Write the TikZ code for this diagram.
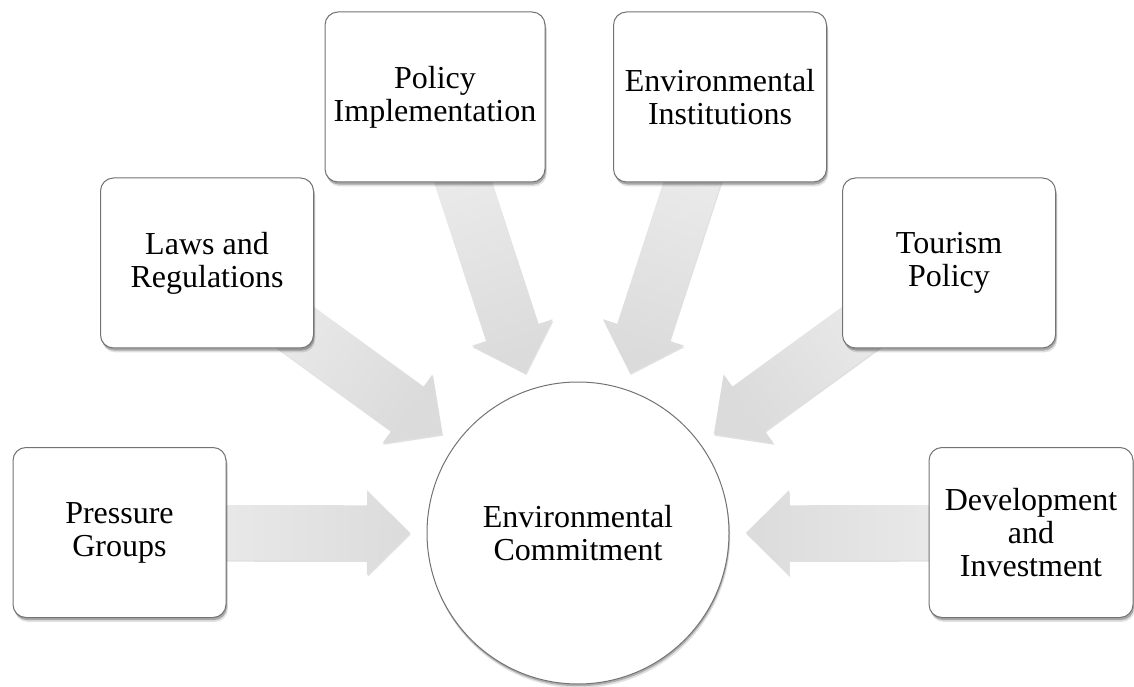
\documentclass[tikz,border=0pt]{standalone}
\usepackage{fontspec}
\setmainfont{Liberation Serif}
\usetikzlibrary{calc,shadows,backgrounds}
\tikzset{
    box/.style={rectangle,rounded corners=6.5pt,draw=black!55,line width=0.5pt,fill=white,
        minimum width=106.5pt,minimum height=85pt,inner sep=0,align=center,
        font=\fontsize{16}{16.5}\selectfont,
        drop shadow={shadow xshift=0.9pt,shadow yshift=-2.2pt,opacity=0.12,fill=black},
        drop shadow={shadow xshift=0.5pt,shadow yshift=-1.3pt,opacity=0.25,fill=black}},
    core/.style={circle,draw=black!55,line width=0.5pt,fill=white,minimum size=151pt,inner sep=0,
        align=center,font=\fontsize{16}{16.5}\selectfont,
        drop shadow={shadow xshift=0.6pt,shadow yshift=-2pt,opacity=0.12,fill=black},
        drop shadow={shadow xshift=0.3pt,shadow yshift=-1.1pt,opacity=0.22,fill=black}},
    flow/.style={top color=black!6,bottom color=black!14,
        drop shadow={shadow xshift=0.4pt,shadow yshift=-0.8pt,opacity=0.12,fill=black}}
}
% block arrow from a box towards the hub
\newcommand{\inflow}[1]{
    \pgfmathanglebetweenpoints{\pgfpointanchor{#1}{center}}{\pgfpointanchor{hub}{center}}
    \pgfmathsetmacro\flowangle{\pgfmathresult+90}
    \coordinate (#1-tip) at ($(hub)!84pt!(#1)$);
    \coordinate (#1-neck) at ($(#1-tip)!21.5pt!(#1)$);
    \path[flow,shading angle=\flowangle] ($(#1)!13.75pt!90:(#1-tip)$) -- ($(#1-neck)!13.75pt!-90:(#1)$)
        -- ($(#1-neck)!21.25pt!-90:(#1)$) -- (#1-tip)
        -- ($(#1-neck)!21.25pt!90:(#1)$) -- ($(#1-neck)!13.75pt!90:(#1)$)
        -- ($(#1)!13.75pt!-90:(#1-tip)$) -- cycle;
}

\begin{document}
\begin{tikzpicture}[x=0.5pt,y=0.5pt]
    \useasboundingbox (0,0) rectangle (1134,686);

    \node[core] (hub) at (578,153) {Environmental\\Commitment};

    \node[box] (pressure) at (119.5,153.5) {Pressure\\Groups};
    \node[box] (laws) at (207,423) {Laws and\\Regulations};
    \node[box,minimum width=110pt] (policy) at (435,589) {Policy\\Implementation};
    \node[box] (institutions) at (720,589) {Environmental\\Institutions};
    \node[box] (tourism) at (949,423) {Tourism\\Policy};
    \node[box,minimum width=102pt] (development) at (1031,153.5) {Development\\and\\Investment};

    \begin{scope}[on background layer]
        \foreach \src in {pressure,laws,policy,institutions,tourism,development}{
            \inflow{\src}
        }
    \end{scope}
\end{tikzpicture}
\end{document}
